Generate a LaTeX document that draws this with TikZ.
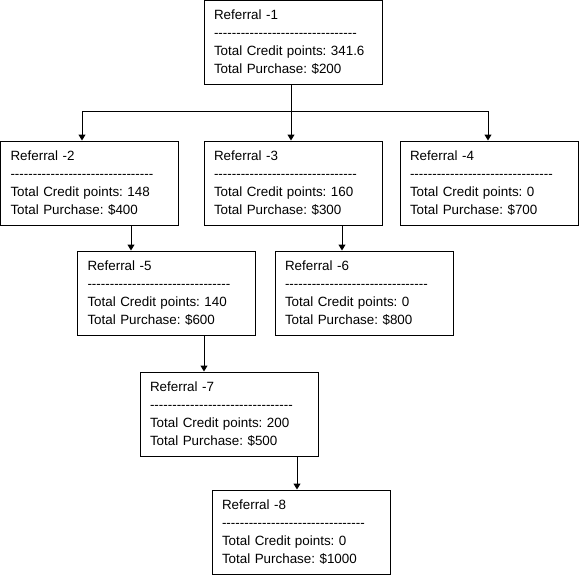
\documentclass[tikz,border=0pt]{standalone}
\usepackage{fontspec}
\setmainfont{Liberation Sans}[Ligatures=TeXOff]
\frenchspacing
\usetikzlibrary{arrows.meta}
\begin{document}
\begin{tikzpicture}[x=1pt,y=1pt,line width=1pt,
refbox/.style={draw=black,fill=white,rectangle,align=left,text width=158pt,inner xsep=10pt,minimum height=84pt,font=\fontsize{13.4}{18}\selectfont},
tip/.style={-{Triangle[width=7pt,length=6pt]}}]
\useasboundingbox (0,0) rectangle (584,-576);
\node (r1) at (293,-42) [refbox] {Referral -1\\--------------------------------\\Total Credit points: 341.6\\Total Purchase: \$200};
\node (r2) at (89.5,-183) [refbox] {Referral -2\\--------------------------------\\Total Credit points: 148\\Total Purchase: \$400};
\node (r3) at (293,-183) [refbox] {Referral -3\\--------------------------------\\Total Credit points: 160\\Total Purchase: \$300};
\node (r4) at (489,-183) [refbox] {Referral -4\\--------------------------------\\Total Credit points: 0\\Total Purchase: \$700};
\node (r5) at (166.5,-293) [refbox] {Referral -5\\--------------------------------\\Total Credit points: 140\\Total Purchase: \$600};
\node (r6) at (364,-293) [refbox] {Referral -6\\--------------------------------\\Total Credit points: 0\\Total Purchase: \$800};
\node (r7) at (229,-414) [refbox] {Referral -7\\--------------------------------\\Total Credit points: 200\\Total Purchase: \$500};
\node (r8) at (301,-532) [refbox] {Referral -8\\--------------------------------\\Total Credit points: 0\\Total Purchase: \$1000};
\coordinate (bus) at ([xshift=-2pt,yshift=-27pt]r1.south);
\draw ([xshift=-2pt]r1.south) -- (bus);
\draw [tip] (bus) -| ([xshift=-7.5pt]r2.north);
\draw [tip] (bus) -- ([xshift=-2pt]r3.north);
\draw [tip] (bus) -| ([xshift=-1pt]r4.north);
\draw [tip] ([xshift=41.5pt]r2.south) -- ([xshift=41.5pt]r2.south |- r5.north);
\draw [tip] ([xshift=49pt]r3.south) -- ([xshift=49pt]r3.south |- r6.north);
\draw [tip] ([xshift=37.5pt]r5.south) -- ([xshift=37.5pt]r5.south |- r7.north);
\draw [tip] ([xshift=68pt]r7.south) -- ([xshift=68pt]r7.south |- r8.north);
\end{tikzpicture}
\end{document}
